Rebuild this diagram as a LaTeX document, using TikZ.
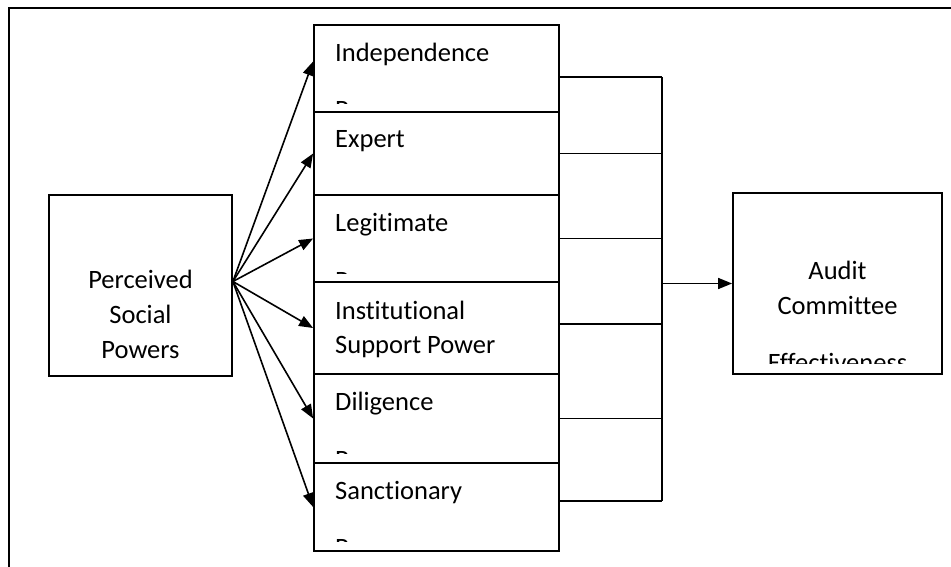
\documentclass[tikz,border=0pt]{standalone}
\usepackage{fontspec}
\setmainfont[Ligatures=NoCommon]{Carlito}
\usepackage{tikz}
\usetikzlibrary{arrows.meta}
\tikzset{
    every node/.style={font=\fontsize{26.5}{35}\selectfont,},
    factor/.style={draw,rectangle,inner sep=0pt,line width=1.8pt,},
    power/.style={factor,minimum width=245pt,},
    powertext/.style={anchor=base west,inner sep=0pt,},
    boxtext/.style={anchor=base,inner sep=0pt,align=center,},
    link/.style={line width=1.6pt,},
    arrow/.style={link,-{Triangle[length=14pt,width=11pt]},},
}

\begin{document}
\begin{tikzpicture}[x=1pt,y=-1pt]
        \useasboundingbox (0,0) rectangle (951,567);
        \draw[line width=1.8pt] (951,8) -- (9,8) -- (9,567);

        \node[factor,minimum width=183pt,minimum height=181pt] (perceived) at (140.5,285.5) {};
        \node[boxtext] (perceived_text) at (140.5,358) {Perceived\\Social\\Powers};

        \node[power,minimum height=87pt] (indep) at (436.5,68.5) {};
        \node[power,minimum height=83pt] (expert) at (436.5,153.5) {};
        \node[power,minimum height=87pt] (legit) at (436.5,238.5) {};
        \node[power,minimum height=92pt] (inst) at (436.5,328) {};
        \node[power,minimum height=89pt] (dilig) at (436.5,418.5) {};
        \node[power,minimum height=88pt] (sanct) at (436.5,507) {};

        \node[factor,minimum width=209pt,minimum height=181pt] (audit) at (837.5,283.5) {};

        % text is cut off at the lower edge of each box
        \begin{scope}
            \clip (indep.north west) rectangle ([yshift=9pt]indep.south east);
            \node[powertext] (indep_text) at (335,62) {Independence};
            \node[powertext] (indep_more) at (335,119) {Power};
        \end{scope}
        \node[powertext] (expert_text) at (335,148) {Expert};
        \begin{scope}
            \clip (legit.north west) rectangle ([yshift=9pt]legit.south east);
            \node[powertext] (legit_text) at (335,231) {Legitimate};
            \node[powertext] (legit_more) at (335,289) {Power};
        \end{scope}
        \node[powertext] (inst_text) at (335,319) {Institutional};
        \node[powertext] (inst_more) at (335,353) {Support Power};
        \begin{scope}
            \clip (dilig.north west) rectangle ([yshift=10pt]dilig.south east);
            \node[powertext] (dilig_text) at (335,410) {Diligence};
            \node[powertext] (dilig_more) at (335,468) {Power};
        \end{scope}
        \begin{scope}
            \clip (sanct.north west) rectangle ([yshift=10pt]sanct.south east);
            \node[powertext] (sanct_text) at (335,499) {Sanctionary};
            \node[powertext] (sanct_more) at (335,556) {Power};
        \end{scope}
        \begin{scope}
            \clip (audit.north west) rectangle ([yshift=11pt]audit.south east);
            \node[boxtext] (audit_text) at (837.5,314) {Audit\\Committee};
            \node[boxtext] (audit_more) at (837.5,371) {Effectiveness};
        \end{scope}

        \draw[arrow] ([yshift=4pt]perceived.east) to ([yshift=7pt]indep.west);
        \draw[arrow] ([yshift=4pt]perceived.east) to (expert.west);
        \draw[arrow] ([yshift=4pt]perceived.east) to (legit.west);
        \draw[arrow] ([yshift=4pt]perceived.east) to (inst.west);
        \draw[arrow] ([yshift=4pt]perceived.east) to (dilig.west);
        \draw[arrow] ([yshift=4pt]perceived.east) to (sanct.west);

        \coordinate (bustop) at (662,77);
        \coordinate (busbot) at (662,501);
        \draw[link] (bustop) -- (busbot);
        \draw[link] (indep.east |- bustop) -- (bustop);
        \draw[link] (expert.east) -- (expert.east -| bustop);
        \draw[link] (legit.east) -- (legit.east -| bustop);
        \draw[link] ([yshift=4pt]inst.east) -- ([yshift=4pt]inst.east -| bustop);
        \draw[link] (dilig.east) -- (dilig.east -| bustop);
        \draw[link] (sanct.east |- busbot) -- (busbot);

        \draw[arrow] (bustop |- audit.west) to (audit.west);
    \end{tikzpicture}
\end{document}
